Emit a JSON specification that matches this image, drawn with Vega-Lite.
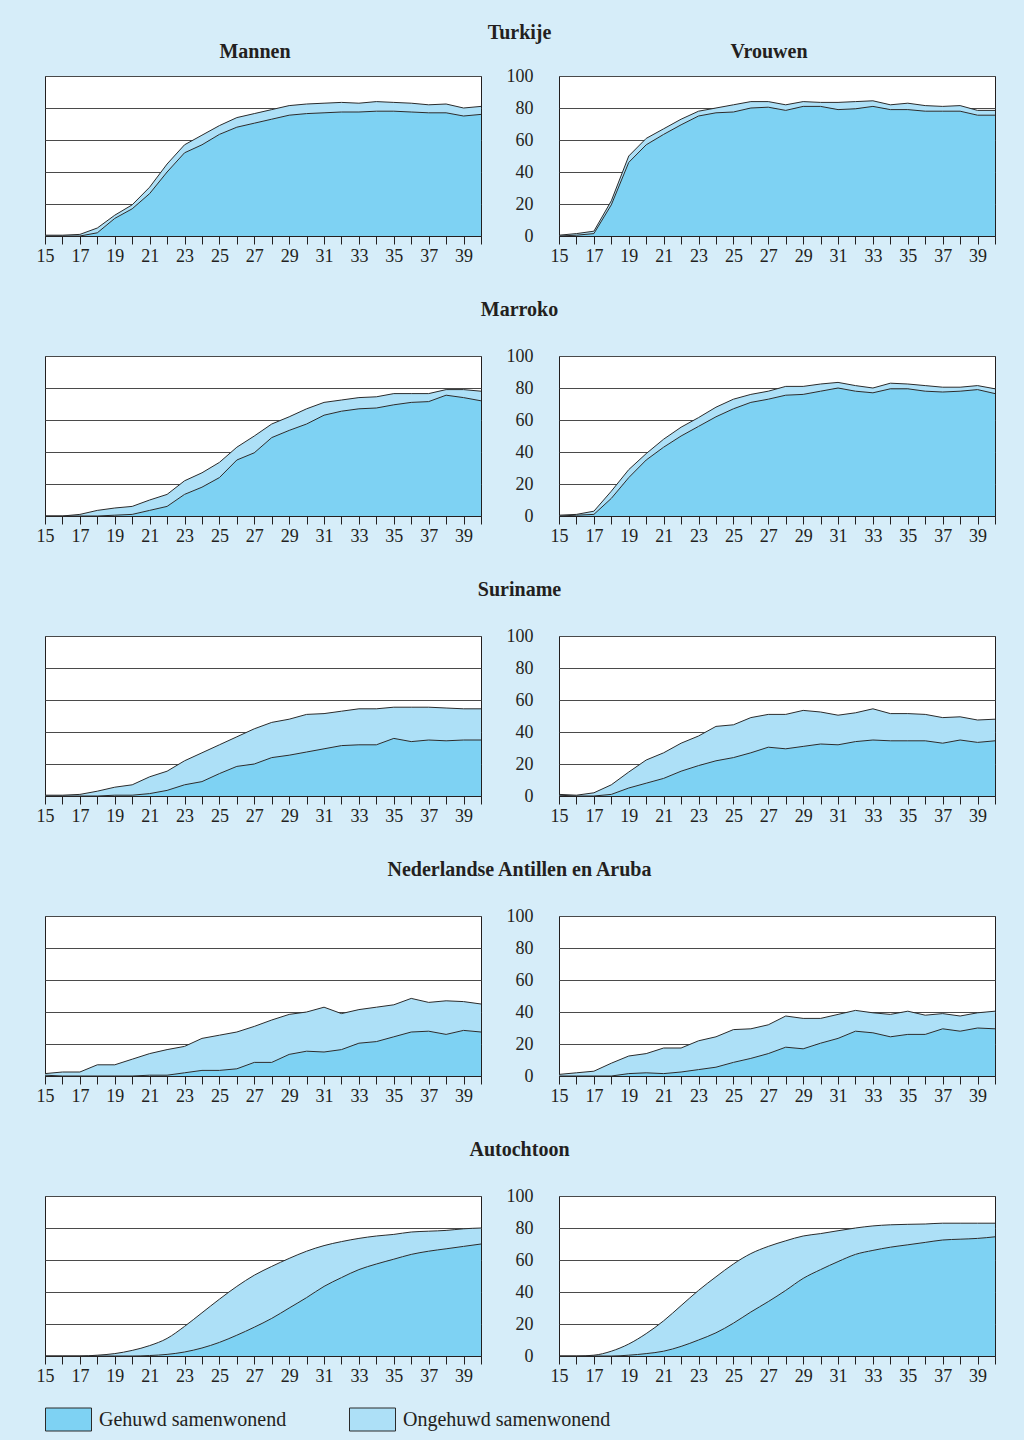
{
"$schema": "https://vega.github.io/schema/vega-lite/v6.json",
"background": "#d6edf9",
"padding": {"left": 35, "top": 22, "right": 28, "bottom": 10},
"datasets": {
"turkije_mannen": [
{"leeftijd":15,"gehuwd":0,"totaal":0.5},{"leeftijd":16,"gehuwd":0,"totaal":0.5},{"leeftijd":17,"gehuwd":0,"totaal":1},{"leeftijd":18,"gehuwd":2,"totaal":5},{"leeftijd":19,"gehuwd":11,"totaal":13},{"leeftijd":20,"gehuwd":17,"totaal":19.5},{"leeftijd":21,"gehuwd":26.5,"totaal":30.5},{"leeftijd":22,"gehuwd":40,"totaal":45},{"leeftijd":23,"gehuwd":52,"totaal":57},{"leeftijd":24,"gehuwd":57,"totaal":63},{"leeftijd":25,"gehuwd":63.5,"totaal":69},{"leeftijd":26,"gehuwd":68,"totaal":74},{"leeftijd":27,"gehuwd":70.5,"totaal":76.5},{"leeftijd":28,"gehuwd":73,"totaal":79},{"leeftijd":29,"gehuwd":75.5,"totaal":81.5},{"leeftijd":30,"gehuwd":76.5,"totaal":82.5},{"leeftijd":31,"gehuwd":77,"totaal":83},{"leeftijd":32,"gehuwd":77.5,"totaal":83.5},{"leeftijd":33,"gehuwd":77.5,"totaal":83},{"leeftijd":34,"gehuwd":78,"totaal":84},{"leeftijd":35,"gehuwd":78,"totaal":83.5},{"leeftijd":36,"gehuwd":77.5,"totaal":83},{"leeftijd":37,"gehuwd":77,"totaal":82},{"leeftijd":38,"gehuwd":77,"totaal":82.5},{"leeftijd":39,"gehuwd":75,"totaal":80},{"leeftijd":40,"gehuwd":76,"totaal":81}],
"turkije_vrouwen": [
{"leeftijd":15,"gehuwd":0,"totaal":0.5},{"leeftijd":16,"gehuwd":0.5,"totaal":1.5},{"leeftijd":17,"gehuwd":1.5,"totaal":3},{"leeftijd":18,"gehuwd":19.5,"totaal":22},{"leeftijd":19,"gehuwd":46,"totaal":50},{"leeftijd":20,"gehuwd":57,"totaal":61},{"leeftijd":21,"gehuwd":63.5,"totaal":67},{"leeftijd":22,"gehuwd":69.5,"totaal":73},{"leeftijd":23,"gehuwd":75,"totaal":78},{"leeftijd":24,"gehuwd":77,"totaal":80},{"leeftijd":25,"gehuwd":77.5,"totaal":82},{"leeftijd":26,"gehuwd":80,"totaal":84},{"leeftijd":27,"gehuwd":80.5,"totaal":84},{"leeftijd":28,"gehuwd":78.5,"totaal":82},{"leeftijd":29,"gehuwd":81,"totaal":84},{"leeftijd":30,"gehuwd":81,"totaal":83.5},{"leeftijd":31,"gehuwd":79,"totaal":83.5},{"leeftijd":32,"gehuwd":79.5,"totaal":84},{"leeftijd":33,"gehuwd":81,"totaal":84.5},{"leeftijd":34,"gehuwd":79,"totaal":82},{"leeftijd":35,"gehuwd":79,"totaal":83},{"leeftijd":36,"gehuwd":78,"totaal":81.5},{"leeftijd":37,"gehuwd":78,"totaal":81},{"leeftijd":38,"gehuwd":78,"totaal":81.5},{"leeftijd":39,"gehuwd":75.5,"totaal":78.5},{"leeftijd":40,"gehuwd":75.5,"totaal":78.5}],
"marroko_mannen": [
{"leeftijd":15,"gehuwd":0,"totaal":0},{"leeftijd":16,"gehuwd":0,"totaal":0},{"leeftijd":17,"gehuwd":0,"totaal":1},{"leeftijd":18,"gehuwd":0,"totaal":3.5},{"leeftijd":19,"gehuwd":0.5,"totaal":5},{"leeftijd":20,"gehuwd":1,"totaal":6},{"leeftijd":21,"gehuwd":3.5,"totaal":10},{"leeftijd":22,"gehuwd":6,"totaal":13.5},{"leeftijd":23,"gehuwd":13.5,"totaal":22},{"leeftijd":24,"gehuwd":18,"totaal":27},{"leeftijd":25,"gehuwd":24,"totaal":33.5},{"leeftijd":26,"gehuwd":35,"totaal":43},{"leeftijd":27,"gehuwd":39.5,"totaal":50},{"leeftijd":28,"gehuwd":49,"totaal":57.5},{"leeftijd":29,"gehuwd":53.5,"totaal":62},{"leeftijd":30,"gehuwd":57.5,"totaal":67},{"leeftijd":31,"gehuwd":63,"totaal":71},{"leeftijd":32,"gehuwd":65.5,"totaal":72.5},{"leeftijd":33,"gehuwd":67,"totaal":74},{"leeftijd":34,"gehuwd":67.5,"totaal":74.5},{"leeftijd":35,"gehuwd":69.5,"totaal":76.5},{"leeftijd":36,"gehuwd":71,"totaal":76.5},{"leeftijd":37,"gehuwd":71.5,"totaal":76.5},{"leeftijd":38,"gehuwd":75.5,"totaal":79},{"leeftijd":39,"gehuwd":74,"totaal":79},{"leeftijd":40,"gehuwd":72,"totaal":78}],
"marroko_vrouwen": [
{"leeftijd":15,"gehuwd":0,"totaal":0.5},{"leeftijd":16,"gehuwd":0.5,"totaal":1},{"leeftijd":17,"gehuwd":1,"totaal":3},{"leeftijd":18,"gehuwd":11,"totaal":15.5},{"leeftijd":19,"gehuwd":24,"totaal":29},{"leeftijd":20,"gehuwd":35,"totaal":39},{"leeftijd":21,"gehuwd":43,"totaal":48},{"leeftijd":22,"gehuwd":50,"totaal":55.5},{"leeftijd":23,"gehuwd":56,"totaal":61.5},{"leeftijd":24,"gehuwd":62,"totaal":68},{"leeftijd":25,"gehuwd":67,"totaal":73},{"leeftijd":26,"gehuwd":71,"totaal":76},{"leeftijd":27,"gehuwd":73,"totaal":78},{"leeftijd":28,"gehuwd":75.5,"totaal":81},{"leeftijd":29,"gehuwd":76,"totaal":81},{"leeftijd":30,"gehuwd":78,"totaal":82.5},{"leeftijd":31,"gehuwd":80,"totaal":83.5},{"leeftijd":32,"gehuwd":78,"totaal":81.5},{"leeftijd":33,"gehuwd":77,"totaal":80},{"leeftijd":34,"gehuwd":79.5,"totaal":83},{"leeftijd":35,"gehuwd":79.5,"totaal":82.5},{"leeftijd":36,"gehuwd":78,"totaal":81.5},{"leeftijd":37,"gehuwd":77.5,"totaal":80.5},{"leeftijd":38,"gehuwd":78,"totaal":80.5},{"leeftijd":39,"gehuwd":79,"totaal":81.5},{"leeftijd":40,"gehuwd":76.5,"totaal":79.5}],
"suriname_mannen": [
{"leeftijd":15,"gehuwd":0,"totaal":0.5},{"leeftijd":16,"gehuwd":0,"totaal":0.5},{"leeftijd":17,"gehuwd":0,"totaal":1},{"leeftijd":18,"gehuwd":0,"totaal":3},{"leeftijd":19,"gehuwd":0.5,"totaal":5.5},{"leeftijd":20,"gehuwd":0.5,"totaal":7},{"leeftijd":21,"gehuwd":1.5,"totaal":12},{"leeftijd":22,"gehuwd":3.5,"totaal":15.5},{"leeftijd":23,"gehuwd":7,"totaal":22},{"leeftijd":24,"gehuwd":9,"totaal":27},{"leeftijd":25,"gehuwd":14,"totaal":32},{"leeftijd":26,"gehuwd":18.5,"totaal":37},{"leeftijd":27,"gehuwd":20,"totaal":42},{"leeftijd":28,"gehuwd":24,"totaal":46},{"leeftijd":29,"gehuwd":25.5,"totaal":48},{"leeftijd":30,"gehuwd":27.5,"totaal":51},{"leeftijd":31,"gehuwd":29.5,"totaal":51.5},{"leeftijd":32,"gehuwd":31.5,"totaal":53},{"leeftijd":33,"gehuwd":32,"totaal":54.5},{"leeftijd":34,"gehuwd":32,"totaal":54.5},{"leeftijd":35,"gehuwd":36,"totaal":55.5},{"leeftijd":36,"gehuwd":34,"totaal":55.5},{"leeftijd":37,"gehuwd":35,"totaal":55.5},{"leeftijd":38,"gehuwd":34.5,"totaal":55},{"leeftijd":39,"gehuwd":35,"totaal":54.5},{"leeftijd":40,"gehuwd":35,"totaal":54.5}],
"suriname_vrouwen": [
{"leeftijd":15,"gehuwd":0.5,"totaal":1},{"leeftijd":16,"gehuwd":0,"totaal":0.5},{"leeftijd":17,"gehuwd":0,"totaal":2},{"leeftijd":18,"gehuwd":1,"totaal":7},{"leeftijd":19,"gehuwd":5,"totaal":15},{"leeftijd":20,"gehuwd":8,"totaal":22.5},{"leeftijd":21,"gehuwd":11,"totaal":27},{"leeftijd":22,"gehuwd":15.5,"totaal":33},{"leeftijd":23,"gehuwd":19,"totaal":37.5},{"leeftijd":24,"gehuwd":22,"totaal":43.5},{"leeftijd":25,"gehuwd":24,"totaal":44.5},{"leeftijd":26,"gehuwd":27,"totaal":49},{"leeftijd":27,"gehuwd":30.5,"totaal":51},{"leeftijd":28,"gehuwd":29.5,"totaal":51},{"leeftijd":29,"gehuwd":31,"totaal":53.5},{"leeftijd":30,"gehuwd":32.5,"totaal":52.5},{"leeftijd":31,"gehuwd":32,"totaal":50.5},{"leeftijd":32,"gehuwd":34,"totaal":52},{"leeftijd":33,"gehuwd":35,"totaal":54.5},{"leeftijd":34,"gehuwd":34.5,"totaal":51.5},{"leeftijd":35,"gehuwd":34.5,"totaal":51.5},{"leeftijd":36,"gehuwd":34.5,"totaal":51},{"leeftijd":37,"gehuwd":33,"totaal":49},{"leeftijd":38,"gehuwd":35,"totaal":49.5},{"leeftijd":39,"gehuwd":33.5,"totaal":47.5},{"leeftijd":40,"gehuwd":34.5,"totaal":48}],
"antillen_mannen": [
{"leeftijd":15,"gehuwd":0.5,"totaal":1.5},{"leeftijd":16,"gehuwd":0,"totaal":2.5},{"leeftijd":17,"gehuwd":0,"totaal":2.5},{"leeftijd":18,"gehuwd":0,"totaal":7},{"leeftijd":19,"gehuwd":0,"totaal":7},{"leeftijd":20,"gehuwd":0,"totaal":10.5},{"leeftijd":21,"gehuwd":0.5,"totaal":14},{"leeftijd":22,"gehuwd":0.5,"totaal":16.5},{"leeftijd":23,"gehuwd":2,"totaal":18.5},{"leeftijd":24,"gehuwd":3.5,"totaal":23.5},{"leeftijd":25,"gehuwd":3.5,"totaal":25.5},{"leeftijd":26,"gehuwd":4.5,"totaal":27.5},{"leeftijd":27,"gehuwd":8.5,"totaal":31},{"leeftijd":28,"gehuwd":8.5,"totaal":35},{"leeftijd":29,"gehuwd":13.5,"totaal":38.5},{"leeftijd":30,"gehuwd":15.5,"totaal":40},{"leeftijd":31,"gehuwd":15,"totaal":43},{"leeftijd":32,"gehuwd":16.5,"totaal":39},{"leeftijd":33,"gehuwd":20.5,"totaal":41.5},{"leeftijd":34,"gehuwd":21.5,"totaal":43},{"leeftijd":35,"gehuwd":24.5,"totaal":44.5},{"leeftijd":36,"gehuwd":27.5,"totaal":48.5},{"leeftijd":37,"gehuwd":28,"totaal":46},{"leeftijd":38,"gehuwd":26,"totaal":47},{"leeftijd":39,"gehuwd":28.5,"totaal":46.5},{"leeftijd":40,"gehuwd":27.5,"totaal":45}],
"antillen_vrouwen": [
{"leeftijd":15,"gehuwd":0,"totaal":1},{"leeftijd":16,"gehuwd":0,"totaal":2},{"leeftijd":17,"gehuwd":0,"totaal":3},{"leeftijd":18,"gehuwd":0,"totaal":8},{"leeftijd":19,"gehuwd":1.5,"totaal":12.5},{"leeftijd":20,"gehuwd":2,"totaal":14},{"leeftijd":21,"gehuwd":1.5,"totaal":17.5},{"leeftijd":22,"gehuwd":2.5,"totaal":17.5},{"leeftijd":23,"gehuwd":4,"totaal":22},{"leeftijd":24,"gehuwd":5.5,"totaal":24.5},{"leeftijd":25,"gehuwd":8.5,"totaal":29},{"leeftijd":26,"gehuwd":11,"totaal":29.5},{"leeftijd":27,"gehuwd":14,"totaal":32},{"leeftijd":28,"gehuwd":18,"totaal":37.5},{"leeftijd":29,"gehuwd":17,"totaal":36},{"leeftijd":30,"gehuwd":20.5,"totaal":36},{"leeftijd":31,"gehuwd":23.5,"totaal":38.5},{"leeftijd":32,"gehuwd":28,"totaal":41},{"leeftijd":33,"gehuwd":27,"totaal":39.5},{"leeftijd":34,"gehuwd":24.5,"totaal":38.5},{"leeftijd":35,"gehuwd":26,"totaal":40.5},{"leeftijd":36,"gehuwd":26,"totaal":38},{"leeftijd":37,"gehuwd":29.5,"totaal":39},{"leeftijd":38,"gehuwd":28,"totaal":37.5},{"leeftijd":39,"gehuwd":30,"totaal":39.5},{"leeftijd":40,"gehuwd":29.5,"totaal":40.5}],
"autochtoon_mannen": [
{"leeftijd":15,"gehuwd":0,"totaal":0},{"leeftijd":16,"gehuwd":0,"totaal":0},{"leeftijd":17,"gehuwd":0,"totaal":0},{"leeftijd":18,"gehuwd":0,"totaal":0.5},{"leeftijd":19,"gehuwd":0,"totaal":1.5},{"leeftijd":20,"gehuwd":0,"totaal":3.5},{"leeftijd":21,"gehuwd":0.3,"totaal":6.5},{"leeftijd":22,"gehuwd":1,"totaal":11},{"leeftijd":23,"gehuwd":2.5,"totaal":18.5},{"leeftijd":24,"gehuwd":5,"totaal":27},{"leeftijd":25,"gehuwd":8.5,"totaal":35.5},{"leeftijd":26,"gehuwd":13,"totaal":43.5},{"leeftijd":27,"gehuwd":18,"totaal":50.5},{"leeftijd":28,"gehuwd":23.5,"totaal":56},{"leeftijd":29,"gehuwd":30,"totaal":61},{"leeftijd":30,"gehuwd":36.5,"totaal":65.5},{"leeftijd":31,"gehuwd":43.5,"totaal":69},{"leeftijd":32,"gehuwd":49,"totaal":71.5},{"leeftijd":33,"gehuwd":54,"totaal":73.5},{"leeftijd":34,"gehuwd":57.5,"totaal":75},{"leeftijd":35,"gehuwd":60.5,"totaal":76},{"leeftijd":36,"gehuwd":63.5,"totaal":77.5},{"leeftijd":37,"gehuwd":65.5,"totaal":78},{"leeftijd":38,"gehuwd":67,"totaal":78.5},{"leeftijd":39,"gehuwd":68.5,"totaal":79.5},{"leeftijd":40,"gehuwd":70,"totaal":80}],
"autochtoon_vrouwen": [
{"leeftijd":15,"gehuwd":0,"totaal":0},{"leeftijd":16,"gehuwd":0,"totaal":0},{"leeftijd":17,"gehuwd":0,"totaal":0.5},{"leeftijd":18,"gehuwd":0,"totaal":3},{"leeftijd":19,"gehuwd":0.5,"totaal":7.5},{"leeftijd":20,"gehuwd":1.5,"totaal":14},{"leeftijd":21,"gehuwd":3,"totaal":22},{"leeftijd":22,"gehuwd":6,"totaal":31.5},{"leeftijd":23,"gehuwd":10,"totaal":41},{"leeftijd":24,"gehuwd":14.5,"totaal":49.5},{"leeftijd":25,"gehuwd":20.5,"totaal":57.5},{"leeftijd":26,"gehuwd":27.5,"totaal":64},{"leeftijd":27,"gehuwd":34,"totaal":68.5},{"leeftijd":28,"gehuwd":41,"totaal":72},{"leeftijd":29,"gehuwd":48.5,"totaal":75},{"leeftijd":30,"gehuwd":54,"totaal":76.5},{"leeftijd":31,"gehuwd":59,"totaal":78.3},{"leeftijd":32,"gehuwd":63.5,"totaal":80},{"leeftijd":33,"gehuwd":66,"totaal":81.3},{"leeftijd":34,"gehuwd":68,"totaal":82},{"leeftijd":35,"gehuwd":69.5,"totaal":82.3},{"leeftijd":36,"gehuwd":71,"totaal":82.5},{"leeftijd":37,"gehuwd":72.5,"totaal":83},{"leeftijd":38,"gehuwd":73,"totaal":83},{"leeftijd":39,"gehuwd":73.5,"totaal":83},{"leeftijd":40,"gehuwd":74.5,"totaal":83}]
},
"spacing": 33,
"vconcat": [
{"title": {"text": "Turkije", "offset": -1, "dx": 3}, "spacing": 21, "hconcat": [
 {"width":436,"height":160,"data":{"name":"turkije_mannen"},"title":{"text":"Mannen","frame":"group","dx":-8,"offset":14},
  "encoding":{"x":{"field":"leeftijd","type":"quantitative","title":null,"scale":{"domain":[15,40],"nice":false,"zero":false},"axis":{"values":[15,16,17,18,19,20,21,22,23,24,25,26,27,28,29,30,31,32,33,34,35,36,37,38,39,40],"labelExpr":"datum.value % 2 === 1 ? datum.label : ''"}}},
  "layer":[
   {"mark":{"type":"area","interpolate":"linear"},"encoding":{"y":{"field":"totaal","type":"quantitative","title":null,"scale":{"domain":[0,100]},"axis":{"labels":false}},"y2":{"field":"gehuwd"},"color":{"datum":"Ongehuwd samenwonend","type":"nominal","title":null,"scale":{"domain":["Gehuwd samenwonend","Ongehuwd samenwonend"],"range":["#7ed2f3","#ade0f7"]}}}},
   {"mark":{"type":"area","interpolate":"linear"},"encoding":{"y":{"field":"gehuwd","type":"quantitative","title":null},"color":{"datum":"Gehuwd samenwonend","type":"nominal","title":null}}},
   {"mark":{"type":"line","interpolate":"linear"},"encoding":{"y":{"field":"totaal","type":"quantitative","title":null}}},
   {"mark":{"type":"line","interpolate":"linear"},"encoding":{"y":{"field":"gehuwd","type":"quantitative","title":null}}}]},
 {"width":436,"height":160,"data":{"name":"turkije_vrouwen"},"title":{"text":"Vrouwen","frame":"group","dx":-8,"offset":5},
  "encoding":{"x":{"field":"leeftijd","type":"quantitative","title":null,"scale":{"domain":[15,40],"nice":false,"zero":false},"axis":{"values":[15,16,17,18,19,20,21,22,23,24,25,26,27,28,29,30,31,32,33,34,35,36,37,38,39,40],"labelExpr":"datum.value % 2 === 1 ? datum.label : ''"}}},
  "layer":[
   {"mark":{"type":"area","interpolate":"linear"},"encoding":{"y":{"field":"totaal","type":"quantitative","title":null,"scale":{"domain":[0,100]}},"y2":{"field":"gehuwd"},"color":{"datum":"Ongehuwd samenwonend","type":"nominal","title":null,"scale":{"domain":["Gehuwd samenwonend","Ongehuwd samenwonend"],"range":["#7ed2f3","#ade0f7"]}}}},
   {"mark":{"type":"area","interpolate":"linear"},"encoding":{"y":{"field":"gehuwd","type":"quantitative","title":null},"color":{"datum":"Gehuwd samenwonend","type":"nominal","title":null}}},
   {"mark":{"type":"line","interpolate":"linear"},"encoding":{"y":{"field":"totaal","type":"quantitative","title":null}}},
   {"mark":{"type":"line","interpolate":"linear"},"encoding":{"y":{"field":"gehuwd","type":"quantitative","title":null}}}]}
]},
{"title": {"text": "Marroko", "offset": 27, "dx": 3}, "spacing": 21, "hconcat": [
 {"width":436,"height":160,"data":{"name":"marroko_mannen"},
  "encoding":{"x":{"field":"leeftijd","type":"quantitative","title":null,"scale":{"domain":[15,40],"nice":false,"zero":false},"axis":{"values":[15,16,17,18,19,20,21,22,23,24,25,26,27,28,29,30,31,32,33,34,35,36,37,38,39,40],"labelExpr":"datum.value % 2 === 1 ? datum.label : ''"}}},
  "layer":[
   {"mark":{"type":"area","interpolate":"linear"},"encoding":{"y":{"field":"totaal","type":"quantitative","title":null,"scale":{"domain":[0,100]},"axis":{"labels":false}},"y2":{"field":"gehuwd"},"color":{"datum":"Ongehuwd samenwonend","type":"nominal","title":null,"scale":{"domain":["Gehuwd samenwonend","Ongehuwd samenwonend"],"range":["#7ed2f3","#ade0f7"]}}}},
   {"mark":{"type":"area","interpolate":"linear"},"encoding":{"y":{"field":"gehuwd","type":"quantitative","title":null},"color":{"datum":"Gehuwd samenwonend","type":"nominal","title":null}}},
   {"mark":{"type":"line","interpolate":"linear"},"encoding":{"y":{"field":"totaal","type":"quantitative","title":null}}},
   {"mark":{"type":"line","interpolate":"linear"},"encoding":{"y":{"field":"gehuwd","type":"quantitative","title":null}}}]},
 {"width":436,"height":160,"data":{"name":"marroko_vrouwen"},
  "encoding":{"x":{"field":"leeftijd","type":"quantitative","title":null,"scale":{"domain":[15,40],"nice":false,"zero":false},"axis":{"values":[15,16,17,18,19,20,21,22,23,24,25,26,27,28,29,30,31,32,33,34,35,36,37,38,39,40],"labelExpr":"datum.value % 2 === 1 ? datum.label : ''"}}},
  "layer":[
   {"mark":{"type":"area","interpolate":"linear"},"encoding":{"y":{"field":"totaal","type":"quantitative","title":null,"scale":{"domain":[0,100]}},"y2":{"field":"gehuwd"},"color":{"datum":"Ongehuwd samenwonend","type":"nominal","title":null,"scale":{"domain":["Gehuwd samenwonend","Ongehuwd samenwonend"],"range":["#7ed2f3","#ade0f7"]}}}},
   {"mark":{"type":"area","interpolate":"linear"},"encoding":{"y":{"field":"gehuwd","type":"quantitative","title":null},"color":{"datum":"Gehuwd samenwonend","type":"nominal","title":null}}},
   {"mark":{"type":"line","interpolate":"linear"},"encoding":{"y":{"field":"totaal","type":"quantitative","title":null}}},
   {"mark":{"type":"line","interpolate":"linear"},"encoding":{"y":{"field":"gehuwd","type":"quantitative","title":null}}}]}
]},
{"title": {"text": "Suriname", "offset": 27, "dx": 3}, "spacing": 21, "hconcat": [
 {"width":436,"height":160,"data":{"name":"suriname_mannen"},
  "encoding":{"x":{"field":"leeftijd","type":"quantitative","title":null,"scale":{"domain":[15,40],"nice":false,"zero":false},"axis":{"values":[15,16,17,18,19,20,21,22,23,24,25,26,27,28,29,30,31,32,33,34,35,36,37,38,39,40],"labelExpr":"datum.value % 2 === 1 ? datum.label : ''"}}},
  "layer":[
   {"mark":{"type":"area","interpolate":"linear"},"encoding":{"y":{"field":"totaal","type":"quantitative","title":null,"scale":{"domain":[0,100]},"axis":{"labels":false}},"y2":{"field":"gehuwd"},"color":{"datum":"Ongehuwd samenwonend","type":"nominal","title":null,"scale":{"domain":["Gehuwd samenwonend","Ongehuwd samenwonend"],"range":["#7ed2f3","#ade0f7"]}}}},
   {"mark":{"type":"area","interpolate":"linear"},"encoding":{"y":{"field":"gehuwd","type":"quantitative","title":null},"color":{"datum":"Gehuwd samenwonend","type":"nominal","title":null}}},
   {"mark":{"type":"line","interpolate":"linear"},"encoding":{"y":{"field":"totaal","type":"quantitative","title":null}}},
   {"mark":{"type":"line","interpolate":"linear"},"encoding":{"y":{"field":"gehuwd","type":"quantitative","title":null}}}]},
 {"width":436,"height":160,"data":{"name":"suriname_vrouwen"},
  "encoding":{"x":{"field":"leeftijd","type":"quantitative","title":null,"scale":{"domain":[15,40],"nice":false,"zero":false},"axis":{"values":[15,16,17,18,19,20,21,22,23,24,25,26,27,28,29,30,31,32,33,34,35,36,37,38,39,40],"labelExpr":"datum.value % 2 === 1 ? datum.label : ''"}}},
  "layer":[
   {"mark":{"type":"area","interpolate":"linear"},"encoding":{"y":{"field":"totaal","type":"quantitative","title":null,"scale":{"domain":[0,100]}},"y2":{"field":"gehuwd"},"color":{"datum":"Ongehuwd samenwonend","type":"nominal","title":null,"scale":{"domain":["Gehuwd samenwonend","Ongehuwd samenwonend"],"range":["#7ed2f3","#ade0f7"]}}}},
   {"mark":{"type":"area","interpolate":"linear"},"encoding":{"y":{"field":"gehuwd","type":"quantitative","title":null},"color":{"datum":"Gehuwd samenwonend","type":"nominal","title":null}}},
   {"mark":{"type":"line","interpolate":"linear"},"encoding":{"y":{"field":"totaal","type":"quantitative","title":null}}},
   {"mark":{"type":"line","interpolate":"linear"},"encoding":{"y":{"field":"gehuwd","type":"quantitative","title":null}}}]}
]},
{"title": {"text": "Nederlandse Antillen en Aruba", "offset": 27, "dx": 3}, "spacing": 21, "hconcat": [
 {"width":436,"height":160,"data":{"name":"antillen_mannen"},
  "encoding":{"x":{"field":"leeftijd","type":"quantitative","title":null,"scale":{"domain":[15,40],"nice":false,"zero":false},"axis":{"values":[15,16,17,18,19,20,21,22,23,24,25,26,27,28,29,30,31,32,33,34,35,36,37,38,39,40],"labelExpr":"datum.value % 2 === 1 ? datum.label : ''"}}},
  "layer":[
   {"mark":{"type":"area","interpolate":"linear"},"encoding":{"y":{"field":"totaal","type":"quantitative","title":null,"scale":{"domain":[0,100]},"axis":{"labels":false}},"y2":{"field":"gehuwd"},"color":{"datum":"Ongehuwd samenwonend","type":"nominal","title":null,"scale":{"domain":["Gehuwd samenwonend","Ongehuwd samenwonend"],"range":["#7ed2f3","#ade0f7"]}}}},
   {"mark":{"type":"area","interpolate":"linear"},"encoding":{"y":{"field":"gehuwd","type":"quantitative","title":null},"color":{"datum":"Gehuwd samenwonend","type":"nominal","title":null}}},
   {"mark":{"type":"line","interpolate":"linear"},"encoding":{"y":{"field":"totaal","type":"quantitative","title":null}}},
   {"mark":{"type":"line","interpolate":"linear"},"encoding":{"y":{"field":"gehuwd","type":"quantitative","title":null}}}]},
 {"width":436,"height":160,"data":{"name":"antillen_vrouwen"},
  "encoding":{"x":{"field":"leeftijd","type":"quantitative","title":null,"scale":{"domain":[15,40],"nice":false,"zero":false},"axis":{"values":[15,16,17,18,19,20,21,22,23,24,25,26,27,28,29,30,31,32,33,34,35,36,37,38,39,40],"labelExpr":"datum.value % 2 === 1 ? datum.label : ''"}}},
  "layer":[
   {"mark":{"type":"area","interpolate":"linear"},"encoding":{"y":{"field":"totaal","type":"quantitative","title":null,"scale":{"domain":[0,100]}},"y2":{"field":"gehuwd"},"color":{"datum":"Ongehuwd samenwonend","type":"nominal","title":null,"scale":{"domain":["Gehuwd samenwonend","Ongehuwd samenwonend"],"range":["#7ed2f3","#ade0f7"]}}}},
   {"mark":{"type":"area","interpolate":"linear"},"encoding":{"y":{"field":"gehuwd","type":"quantitative","title":null},"color":{"datum":"Gehuwd samenwonend","type":"nominal","title":null}}},
   {"mark":{"type":"line","interpolate":"linear"},"encoding":{"y":{"field":"totaal","type":"quantitative","title":null}}},
   {"mark":{"type":"line","interpolate":"linear"},"encoding":{"y":{"field":"gehuwd","type":"quantitative","title":null}}}]}
]},
{"title": {"text": "Autochtoon", "offset": 27, "dx": 3}, "spacing": 21, "hconcat": [
 {"width":436,"height":160,"data":{"name":"autochtoon_mannen"},
  "encoding":{"x":{"field":"leeftijd","type":"quantitative","title":null,"scale":{"domain":[15,40],"nice":false,"zero":false},"axis":{"values":[15,16,17,18,19,20,21,22,23,24,25,26,27,28,29,30,31,32,33,34,35,36,37,38,39,40],"labelExpr":"datum.value % 2 === 1 ? datum.label : ''"}}},
  "layer":[
   {"mark":{"type":"area","interpolate":"monotone"},"encoding":{"y":{"field":"totaal","type":"quantitative","title":null,"scale":{"domain":[0,100]},"axis":{"labels":false}},"y2":{"field":"gehuwd"},"color":{"datum":"Ongehuwd samenwonend","type":"nominal","title":null,"scale":{"domain":["Gehuwd samenwonend","Ongehuwd samenwonend"],"range":["#7ed2f3","#ade0f7"]}}}},
   {"mark":{"type":"area","interpolate":"monotone"},"encoding":{"y":{"field":"gehuwd","type":"quantitative","title":null},"color":{"datum":"Gehuwd samenwonend","type":"nominal","title":null}}},
   {"mark":{"type":"line","interpolate":"monotone"},"encoding":{"y":{"field":"totaal","type":"quantitative","title":null}}},
   {"mark":{"type":"line","interpolate":"monotone"},"encoding":{"y":{"field":"gehuwd","type":"quantitative","title":null}}}]},
 {"width":436,"height":160,"data":{"name":"autochtoon_vrouwen"},
  "encoding":{"x":{"field":"leeftijd","type":"quantitative","title":null,"scale":{"domain":[15,40],"nice":false,"zero":false},"axis":{"values":[15,16,17,18,19,20,21,22,23,24,25,26,27,28,29,30,31,32,33,34,35,36,37,38,39,40],"labelExpr":"datum.value % 2 === 1 ? datum.label : ''"}}},
  "layer":[
   {"mark":{"type":"area","interpolate":"monotone"},"encoding":{"y":{"field":"totaal","type":"quantitative","title":null,"scale":{"domain":[0,100]}},"y2":{"field":"gehuwd"},"color":{"datum":"Ongehuwd samenwonend","type":"nominal","title":null,"scale":{"domain":["Gehuwd samenwonend","Ongehuwd samenwonend"],"range":["#7ed2f3","#ade0f7"]},"legend":{"orient":"bottom","offset":10,"padding":0,"direction":"horizontal","symbolType":"M-1,-0.5H1V0.5H-1Z","symbolSize":2116,"symbolStrokeColor":"#2b2b2b","symbolStrokeWidth":1}}}},
   {"mark":{"type":"area","interpolate":"monotone"},"encoding":{"y":{"field":"gehuwd","type":"quantitative","title":null},"color":{"datum":"Gehuwd samenwonend","type":"nominal","title":null}}},
   {"mark":{"type":"line","interpolate":"monotone"},"encoding":{"y":{"field":"totaal","type":"quantitative","title":null}}},
   {"mark":{"type":"line","interpolate":"monotone"},"encoding":{"y":{"field":"gehuwd","type":"quantitative","title":null}}}]}
]}
],
"config": {
 "font": "Liberation Serif",
 "view": {"stroke": "#231f20", "strokeWidth": 1, "fill": "white"},
 "area": {"opacity": 1},
 "line": {"color": "#2b2b2b", "strokeWidth": 1},
 "title": {"font": "Liberation Serif", "fontSize": 20, "fontWeight": "bold", "color": "#231f20", "anchor": "middle", "offset": 14},
 "axis": {"labelFont": "Liberation Serif", "labelFontSize": 18, "labelColor": "#231f20", "gridColor": "#4a4a4a", "gridWidth": 1, "gridOpacity": 1},
 "axisX": {"grid": false, "tickSize": 8, "tickColor": "#231f20", "tickWidth": 1, "domainColor": "#231f20", "domainWidth": 1, "labelPadding": 3, "labelFlush": false, "labelOverlap": false},
 "axisY": {"grid": true, "ticks": false, "tickSize": 0, "domain": false, "tickCount": 5, "labelPadding": 26},
 "legend": {"orient": "bottom", "offset": 10, "padding": 0, "direction": "horizontal", "symbolType": "M-1,-0.5H1V0.5H-1Z", "symbolSize": 2116, "symbolStrokeColor": "#2b2b2b", "symbolStrokeWidth": 1, "symbolOpacity": 1, "labelFont": "Liberation Serif", "labelFontSize": 20, "labelColor": "#231f20", "labelOffset": 7, "columnPadding": 60, "labelLimit": 400}
}
}
